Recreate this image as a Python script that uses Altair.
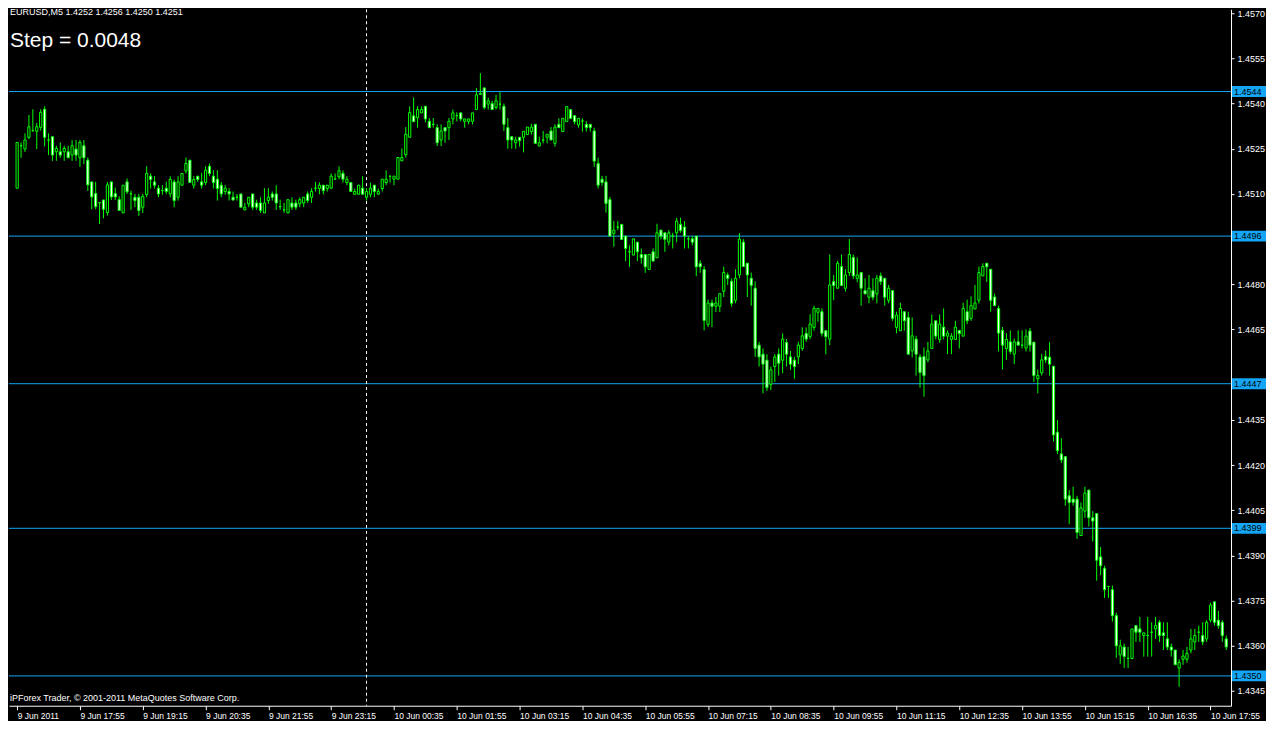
import altair as alt
import pandas as pd

# ---- candle data (EURUSD M5, 9 Jun 2011 16:35 -> 10 Jun 2011) ----
opens = [1.45119,1.45260,1.45249,1.45288,1.45310,1.45308,1.45321,1.45381,1.45279,1.45290,
1.45240,1.45240,1.45240,1.45240,1.45229,1.45249,1.45220,1.45260,1.45212,1.45140,
1.45101,1.45071,1.45080,1.45038,1.45140,1.45101,1.45081,1.45037,1.45140,1.45100,
1.45089,1.45089,1.45056,1.45098,1.45159,1.45140,1.45119,1.45111,1.45119,1.45100,
1.45140,1.45089,1.45129,1.45176,1.45212,1.45129,1.45159,1.45140,1.45138,1.45192,
1.45159,1.45149,1.45129,1.45108,1.45108,1.45089,1.45089,1.45100,1.45047,1.45067,
1.45100,1.45070,1.45070,1.45037,1.45078,1.45100,1.45100,1.45058,1.45047,1.45037,
1.45070,1.45070,1.45067,1.45070,1.45100,1.45089,1.45119,1.45118,1.45129,1.45118,
1.45119,1.45149,1.45157,1.45168,1.45138,1.45138,1.45099,1.45099,1.45119,1.45089,
1.45099,1.45129,1.45099,1.45118,1.45138,1.45159,1.45149,1.45149,1.45210,1.45230,
1.45288,1.45359,1.45353,1.45369,1.45391,1.45341,1.45331,1.45320,1.45279,1.45320,
1.45320,1.45349,1.45360,1.45369,1.45341,1.45341,1.45341,1.45380,1.45430,1.45452,
1.45398,1.45400,1.45387,1.45398,1.45391,1.45320,1.45290,1.45270,1.45288,1.45288,
1.45297,1.45307,1.45331,1.45259,1.45279,1.45288,1.45309,1.45268,1.45331,1.45307,
1.45340,1.45380,1.45360,1.45329,1.45342,1.45331,1.45331,1.45309,1.45201,1.45149,
1.45140,1.45081,1.44969,1.44990,1.44999,1.44960,1.44908,1.44897,1.44940,1.44899,
1.44899,1.44849,1.44908,1.44888,1.44980,1.44971,1.44940,1.44960,1.44971,1.44999,
1.44990,1.44951,1.44951,1.44960,1.44869,1.44849,1.44667,1.44738,1.44727,1.44727,
1.44777,1.44831,1.44810,1.44747,1.44831,1.44940,1.44870,1.44820,1.44787,1.44598,
1.44568,1.44548,1.44468,1.44527,1.44568,1.44548,1.44607,1.44559,1.44548,1.44559,
1.44587,1.44637,1.44627,1.44657,1.44707,1.44709,1.44646,1.44618,1.44809,1.44787,
1.44859,1.44787,1.44839,1.44889,1.44820,1.44839,1.44779,1.44757,1.44779,1.44768,
1.44828,1.44820,1.44747,1.44779,1.44657,1.44646,1.44709,1.44690,1.44579,1.44618,
1.44559,1.44560,1.44549,1.44587,1.44679,1.44617,1.44658,1.44628,1.44617,1.44617,
1.44647,1.44628,1.44709,1.44687,1.44718,1.44747,1.44828,1.44870,1.44850,1.44758,
1.44720,1.44647,1.44587,1.44609,1.44568,1.44609,1.44598,1.44588,1.44645,1.44608,
1.44487,1.44506,1.44560,1.44558,1.44528,1.44309,1.44237,1.44228,1.44098,1.44087,
1.44087,1.43966,1.44047,1.44117,1.44025,1.44039,1.43895,1.43857,1.43797,1.43786,
1.43700,1.43570,1.43596,1.43558,1.43558,1.43667,1.43656,1.43634,1.43634,1.43645,
1.43656,1.43678,1.43643,1.43623,1.43596,1.43586,1.43526,1.43555,1.43555,1.43586,
1.43613,1.43645,1.43634,1.43623,1.43685,1.43746,1.43685,1.43678,1.43623]

highs = [1.45271,1.45271,1.45301,1.45362,1.45381,1.45336,1.45381,1.45391,1.45301,1.45290,
1.45260,1.45271,1.45260,1.45260,1.45279,1.45279,1.45279,1.45279,1.45221,1.45140,
1.45140,1.45071,1.45080,1.45140,1.45140,1.45121,1.45092,1.45129,1.45151,1.45111,
1.45100,1.45100,1.45100,1.45192,1.45168,1.45159,1.45129,1.45129,1.45140,1.45159,
1.45148,1.45159,1.45168,1.45221,1.45212,1.45159,1.45159,1.45170,1.45192,1.45201,
1.45179,1.45179,1.45140,1.45129,1.45119,1.45108,1.45100,1.45100,1.45070,1.45089,
1.45100,1.45081,1.45089,1.45119,1.45119,1.45108,1.45129,1.45081,1.45070,1.45081,
1.45089,1.45081,1.45089,1.45089,1.45108,1.45119,1.45140,1.45138,1.45129,1.45129,
1.45168,1.45168,1.45192,1.45178,1.45159,1.45138,1.45118,1.45129,1.45159,1.45119,
1.45138,1.45129,1.45118,1.45149,1.45178,1.45159,1.45159,1.45221,1.45251,1.45322,
1.45391,1.45420,1.45391,1.45391,1.45391,1.45352,1.45352,1.45331,1.45331,1.45320,
1.45352,1.45380,1.45371,1.45371,1.45349,1.45349,1.45369,1.45452,1.45501,1.45452,
1.45420,1.45409,1.45429,1.45438,1.45400,1.45352,1.45290,1.45290,1.45288,1.45308,
1.45322,1.45333,1.45331,1.45290,1.45309,1.45298,1.45322,1.45331,1.45351,1.45351,
1.45390,1.45380,1.45360,1.45351,1.45351,1.45342,1.45331,1.45320,1.45220,1.45160,
1.45160,1.45090,1.45010,1.45010,1.44999,1.44960,1.44929,1.44951,1.44940,1.44919,
1.44899,1.44899,1.44919,1.45001,1.44980,1.44971,1.44980,1.44971,1.45021,1.45021,
1.45010,1.44960,1.44960,1.44960,1.44880,1.44860,1.44749,1.44749,1.44758,1.44769,
1.44859,1.44839,1.44820,1.44850,1.44970,1.44950,1.44870,1.44839,1.44810,1.44609,
1.44587,1.44568,1.44527,1.44568,1.44587,1.44637,1.44618,1.44579,1.44559,1.44609,
1.44657,1.44657,1.44701,1.44729,1.44720,1.44720,1.44646,1.44899,1.44831,1.44878,
1.44899,1.44850,1.44950,1.44899,1.44889,1.44839,1.44820,1.44831,1.44820,1.44831,
1.44839,1.44820,1.44798,1.44779,1.44709,1.44739,1.44709,1.44709,1.44690,1.44629,
1.44568,1.44590,1.44609,1.44700,1.44679,1.44700,1.44720,1.44647,1.44638,1.44679,
1.44647,1.44739,1.44749,1.44760,1.44798,1.44859,1.44870,1.44870,1.44850,1.44769,
1.44729,1.44658,1.44638,1.44647,1.44620,1.44647,1.44647,1.44650,1.44655,1.44608,
1.44517,1.44569,1.44580,1.44608,1.44528,1.44349,1.44289,1.44228,1.44117,1.44128,
1.44098,1.44076,1.44128,1.44117,1.44047,1.44039,1.43928,1.43866,1.43797,1.43800,
1.43710,1.43620,1.43607,1.43596,1.43656,1.43667,1.43696,1.43643,1.43696,1.43678,
1.43696,1.43685,1.43678,1.43678,1.43607,1.43586,1.43555,1.43586,1.43596,1.43656,
1.43656,1.43667,1.43678,1.43685,1.43743,1.43746,1.43716,1.43685,1.43634]

lows = [1.45119,1.45220,1.45239,1.45282,1.45307,1.45249,1.45310,1.45258,1.45229,1.45210,
1.45210,1.45220,1.45210,1.45220,1.45210,1.45210,1.45190,1.45199,1.45110,1.45049,
1.45049,1.45000,1.45019,1.45028,1.45080,1.45080,1.45045,1.45037,1.45100,1.45047,
1.45056,1.45027,1.45037,1.45089,1.45118,1.45118,1.45089,1.45097,1.45100,1.45089,
1.45056,1.45078,1.45129,1.45168,1.45138,1.45118,1.45140,1.45118,1.45129,1.45159,
1.45118,1.45078,1.45089,1.45097,1.45078,1.45078,1.45078,1.45056,1.45047,1.45056,
1.45047,1.45047,1.45037,1.45037,1.45067,1.45078,1.45047,1.45047,1.45037,1.45037,
1.45047,1.45047,1.45056,1.45056,1.45070,1.45070,1.45108,1.45099,1.45099,1.45108,
1.45118,1.45149,1.45149,1.45138,1.45129,1.45108,1.45099,1.45099,1.45099,1.45078,
1.45089,1.45089,1.45099,1.45108,1.45129,1.45138,1.45129,1.45149,1.45210,1.45221,
1.45288,1.45340,1.45320,1.45369,1.45338,1.45320,1.45320,1.45259,1.45259,1.45270,
1.45279,1.45331,1.45341,1.45341,1.45320,1.45331,1.45331,1.45380,1.45430,1.45380,
1.45380,1.45380,1.45380,1.45380,1.45309,1.45250,1.45250,1.45250,1.45257,1.45238,
1.45297,1.45297,1.45268,1.45259,1.45268,1.45268,1.45279,1.45257,1.45320,1.45307,
1.45340,1.45351,1.45331,1.45320,1.45307,1.45307,1.45307,1.45190,1.45118,1.45127,
1.45038,1.44960,1.44925,1.44980,1.44949,1.44877,1.44858,1.44897,1.44877,1.44869,
1.44838,1.44849,1.44877,1.44888,1.44949,1.44908,1.44929,1.44919,1.44940,1.44971,
1.44919,1.44919,1.44929,1.44827,1.44838,1.44647,1.44658,1.44658,1.44708,1.44708,
1.44758,1.44798,1.44726,1.44737,1.44820,1.44859,1.44758,1.44729,1.44559,1.44527,
1.44438,1.44446,1.44449,1.44476,1.44497,1.44505,1.44527,1.44516,1.44487,1.44535,
1.44579,1.44609,1.44618,1.44646,1.44676,1.44627,1.44568,1.44598,1.44747,1.44787,
1.44796,1.44776,1.44828,1.44818,1.44807,1.44729,1.44768,1.44737,1.44747,1.44737,
1.44798,1.44729,1.44737,1.44679,1.44637,1.44646,1.44646,1.44568,1.44557,1.44497,
1.44457,1.44427,1.44541,1.44587,1.44617,1.44606,1.44617,1.44568,1.44568,1.44617,
1.44587,1.44628,1.44668,1.44679,1.44718,1.44736,1.44828,1.44808,1.44709,1.44729,
1.44577,1.44517,1.44549,1.44568,1.44535,1.44598,1.44587,1.44577,1.44577,1.44476,
1.44438,1.44497,1.44539,1.44497,1.44278,1.44237,1.44207,1.44065,1.44004,1.44065,
1.43955,1.43966,1.44025,1.43996,1.43946,1.43816,1.43835,1.43759,1.43759,1.43680,
1.43560,1.43540,1.43526,1.43526,1.43555,1.43613,1.43613,1.43564,1.43564,1.43564,
1.43623,1.43613,1.43586,1.43586,1.43564,1.43537,1.43464,1.43537,1.43544,1.43575,
1.43586,1.43613,1.43602,1.43613,1.43678,1.43667,1.43656,1.43613,1.43586]

closes = [1.45271,1.45260,1.45279,1.45323,1.45310,1.45323,1.45371,1.45288,1.45279,1.45229,
1.45251,1.45229,1.45251,1.45220,1.45260,1.45229,1.45271,1.45220,1.45130,1.45090,
1.45058,1.45071,1.45049,1.45130,1.45090,1.45090,1.45045,1.45129,1.45107,1.45100,
1.45078,1.45045,1.45092,1.45168,1.45148,1.45129,1.45100,1.45111,1.45108,1.45148,
1.45078,1.45140,1.45168,1.45201,1.45138,1.45148,1.45148,1.45129,1.45179,1.45168,
1.45138,1.45118,1.45100,1.45119,1.45100,1.45080,1.45089,1.45056,1.45056,1.45089,
1.45056,1.45056,1.45045,1.45070,1.45089,1.45089,1.45070,1.45058,1.45047,1.45081,
1.45056,1.45056,1.45081,1.45089,1.45078,1.45108,1.45119,1.45129,1.45111,1.45129,
1.45159,1.45149,1.45177,1.45149,1.45149,1.45108,1.45108,1.45129,1.45099,1.45108,
1.45119,1.45108,1.45108,1.45149,1.45149,1.45159,1.45159,1.45221,1.45221,1.45298,
1.45370,1.45340,1.45380,1.45380,1.45349,1.45320,1.45331,1.45270,1.45309,1.45309,
1.45341,1.45369,1.45360,1.45349,1.45349,1.45349,1.45369,1.45429,1.45434,1.45387,
1.45409,1.45380,1.45409,1.45398,1.45331,1.45279,1.45279,1.45279,1.45277,1.45308,
1.45322,1.45322,1.45268,1.45270,1.45279,1.45298,1.45279,1.45322,1.45320,1.45351,
1.45390,1.45351,1.45340,1.45351,1.45342,1.45320,1.45320,1.45209,1.45129,1.45138,
1.45068,1.44960,1.44980,1.44990,1.44949,1.44919,1.44908,1.44951,1.44908,1.44888,
1.44858,1.44899,1.44877,1.44971,1.44960,1.44949,1.44971,1.44960,1.45010,1.44979,
1.44960,1.44951,1.44940,1.44858,1.44858,1.44680,1.44738,1.44727,1.44738,1.44769,
1.44839,1.44820,1.44737,1.44820,1.44950,1.44859,1.44831,1.44796,1.44587,1.44559,
1.44535,1.44457,1.44516,1.44559,1.44538,1.44618,1.44568,1.44535,1.44527,1.44598,
1.44629,1.44618,1.44668,1.44720,1.44720,1.44637,1.44626,1.44798,1.44796,1.44870,
1.44796,1.44831,1.44899,1.44828,1.44831,1.44787,1.44768,1.44787,1.44757,1.44820,
1.44809,1.44757,1.44787,1.44687,1.44698,1.44720,1.44679,1.44568,1.44629,1.44568,
1.44507,1.44497,1.44579,1.44668,1.44628,1.44668,1.44628,1.44638,1.44628,1.44658,
1.44636,1.44720,1.44679,1.44729,1.44738,1.44839,1.44859,1.44858,1.44747,1.44729,
1.44638,1.44598,1.44617,1.44577,1.44609,1.44598,1.44598,1.44628,1.44598,1.44497,
1.44497,1.44549,1.44549,1.44535,1.44300,1.44248,1.44217,1.44087,1.44076,1.44076,
1.43976,1.44058,1.44107,1.44025,1.44014,1.43884,1.43866,1.43786,1.43797,1.43700,
1.43600,1.43600,1.43564,1.43558,1.43656,1.43645,1.43645,1.43643,1.43634,1.43645,
1.43667,1.43634,1.43634,1.43596,1.43586,1.43537,1.43545,1.43566,1.43575,1.43623,
1.43634,1.43645,1.43613,1.43678,1.43735,1.43678,1.43667,1.43634,1.43596]

# x-axis tick labels (every 16 bars = 80 minutes)
x_labels = ["9 Jun 2011", "9 Jun 17:55", "9 Jun 19:15", "9 Jun 20:35", "9 Jun 21:55",
            "9 Jun 23:15", "10 Jun 00:35", "10 Jun 01:55", "10 Jun 03:15", "10 Jun 04:35",
            "10 Jun 05:55", "10 Jun 07:15", "10 Jun 08:35", "10 Jun 09:55", "10 Jun 11:15",
            "10 Jun 12:35", "10 Jun 13:55", "10 Jun 15:15", "10 Jun 16:35", "10 Jun 17:55"]
label_step = 16
day_break_bar = 89  # 10 Jun 00:00

price_ticks = [1.4570, 1.4555, 1.4540, 1.4525, 1.4510, 1.4480, 1.4465,
               1.4435, 1.4420, 1.4405, 1.4390, 1.4375, 1.4360, 1.4345]
levels = [1.4544, 1.4496, 1.4447, 1.4399, 1.4350]
level_text = ["1.4544", "1.4496", "1.4447", "1.4399", "1.4350"]

header = "EURUSD,M5  1.4252 1.4256 1.4250 1.4251"
step_text = "Step = 0.0048"
footer = "iPForex Trader, \u00a9 2001-2011 MetaQuotes Software Corp."

# ---- build ----
W, H = 1223, 697
GREEN = "#00FF00"
LBLUE = "#14A6F5"
FONT = "Liberation Sans"

n = len(opens)
df = pd.DataFrame({"i": list(range(n)), "o": opens, "h": highs, "l": lows, "c": closes})

xscale = alt.Scale(domain=[-0.8, 307.95], nice=False, zero=False)
yscale = alt.Scale(domain=[1.43401, 1.45713], nice=False, zero=False)

label_js = "[" + ",".join("'" + s + "'" for s in x_labels) + "]"
xaxis = alt.Axis(values=[k * label_step for k in range(len(x_labels))],
                 labelExpr=label_js + "[round(datum.value/" + str(label_step) + ")]",
                 labelAlign="left", labelBaseline="top", labelPadding=2, labelFlush=False,
                 labelColor="white", labelFont=FONT, labelFontSize=8.5,
                 tickColor="white", tickSize=4, domainColor="white", grid=False,
                 labelOverlap=False, title=None)
yaxis = alt.Axis(values=price_ticks, format=".4f", orient="right",
                 labelColor="white", labelFont=FONT, labelFontSize=9, labelPadding=3,
                 tickColor="white", tickSize=3, domainColor="white", grid=False,
                 labelOverlap=False, labelFlush=False, title=None)

base = alt.Chart(df)

wicks = base.mark_rule(color=GREEN, strokeWidth=1).encode(
    x=alt.X("i:Q", scale=xscale, axis=xaxis, title=None),
    y=alt.Y("l:Q", scale=yscale, axis=yaxis, title=None),
    y2="h:Q",
)

bodies = base.transform_calculate(
    fillc="datum.c < datum.o ? 'white' : 'black'"
).mark_bar(size=2.2, stroke=GREEN, strokeWidth=1).encode(
    x=alt.X("i:Q", title=None),
    y=alt.Y("o:Q", title=None),
    y2="c:Q",
    fill=alt.Fill("fillc:N", scale=None),
)

lv = pd.DataFrame({"p": levels, "t": level_text})
level_lines = alt.Chart(lv).mark_rule(color=LBLUE, strokeWidth=1).encode(
    y=alt.Y("p:Q", title=None),
    x=alt.value(0), x2=alt.value(W),
)
level_boxes = alt.Chart(lv).transform_calculate(
    lo="datum.p - 0.00018", hi="datum.p + 0.00018"
).mark_rect(color=LBLUE).encode(
    y=alt.Y("lo:Q", title=None), y2="hi:Q",
    x=alt.value(W + 1), x2=alt.value(W + 35),
)
level_txt = alt.Chart(lv).mark_text(align="left", baseline="middle", color="black",
                                    font=FONT, fontSize=9).encode(
    y=alt.Y("p:Q", title=None), x=alt.value(W + 3), text="t:N",
)

sep = alt.Chart(pd.DataFrame({"i": [day_break_bar]})).mark_rule(
    color="white", strokeDash=[3, 3], strokeWidth=1
).encode(x=alt.X("i:Q", title=None), y=alt.value(0), y2=alt.value(H))

t_header = alt.Chart(pd.DataFrame({"t": [header]})).mark_text(
    align="left", baseline="middle", color="white", font=FONT, fontSize=9
).encode(x=alt.value(1), y=alt.value(3), text="t:N")
t_step = alt.Chart(pd.DataFrame({"t": [step_text]})).mark_text(
    align="left", baseline="alphabetic", color="white", font=FONT, fontSize=21
).encode(x=alt.value(1), y=alt.value(38), text="t:N")
t_footer = alt.Chart(pd.DataFrame({"t": [footer]})).mark_text(
    align="left", baseline="middle", color="white", font=FONT, fontSize=9
).encode(x=alt.value(1), y=alt.value(689), text="t:N")

chart = alt.layer(
    level_lines, sep, wicks, bodies, level_boxes, level_txt, t_header, t_step, t_footer
).properties(
    width=W, height=H, padding=0, background="black"
).configure_view(stroke=None)

chart.save("out.html", embed_options={"renderer": "svg", "actions": False})
